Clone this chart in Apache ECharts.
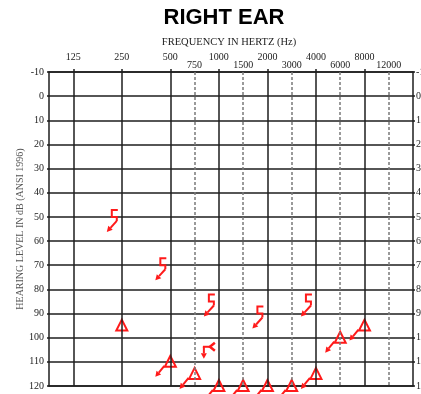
<!DOCTYPE html>
<html>
<head>
<meta charset="utf-8">
<title>Right Ear Audiogram</title>
<script src="https://cdn.jsdelivr.net/npm/echarts@6/dist/echarts.min.js"></script>
<style>
  html, body { margin: 0; padding: 0; background: #fff; }
  #chart { width: 421px; height: 394px; }
</style>
</head>
<body>
<div id="chart"></div>
<script>
// Frequency axis: octave labels on the upper row, inter-octave labels below them
const octaveLabels = ['125', '250', '500', '1000', '2000', '4000', '8000'];
const midLabels = ['750', '1500', '3000', '6000', '12000'];
// Hearing level ticks (dB HL)
const dbMin = -10;
const dbMax = 120;
const dbStep = 10;

// Masked air conduction (triangle), right ear
const maskedAirFreq = [250, 500, 750, 1000, 1500, 2000, 3000, 4000, 6000, 8000];
const maskedAirDb = [95, 110, 115, 120, 120, 120, 120, 115, 100, 95];
const maskedAirNoResp = [0, 1, 1, 1, 1, 1, 1, 1, 1, 1];

// Masked bone conduction ([), right ear — all no response
const maskedBoneFreq = [250, 500, 1000, 2000, 4000];
const maskedBoneDb = [50, 70, 85, 90, 85];

// Unmasked bone conduction (<), right ear — no response
const boneFreq = [1000];
const boneDb = [105];

// Audiogram x scale: half-octave slots, 125 Hz in slot 1, 12000 Hz in slot 14
function slotOf(freq) {
  const s = String(freq);
  const i = octaveLabels.indexOf(s);
  if (i >= 0) return 2 * i + 1;
  const j = midLabels.indexOf(s);
  return 2 * j + 6;
}
const octaveSlots = octaveLabels.map(slotOf);
const midSlots = midLabels.map(slotOf);

const RED = '#ff1a1a';
const GRID = '#1e1e1e';
const serif = '"Liberation Serif", "DejaVu Serif", serif';

function arrow(x1, y1, x2, y2) {
  const a = Math.atan2(y2 - y1, x2 - x1);
  const h = 5.5, w = 3;
  const bx = x2 - h * Math.cos(a), by = y2 - h * Math.sin(a);
  const nx = -Math.sin(a) * w, ny = Math.cos(a) * w;
  return [
    { type: 'line', shape: { x1: x1, y1: y1, x2: bx, y2: by },
      style: { stroke: RED, lineWidth: 2, fill: null } },
    { type: 'polygon', shape: { points: [[x2, y2], [bx + nx, by + ny], [bx - nx, by - ny]] },
      style: { fill: RED } }
  ];
}

function renderTriangle(params, api) {
  const p = api.coord([api.value(0), api.value(1)]);
  const x = p[0], y = p[1];
  let children = [{
    type: 'polygon',
    shape: { points: [[x, y - 6], [x + 5.5, y + 5], [x - 5.5, y + 5]] },
    style: { stroke: RED, lineWidth: 2, fill: null }
  }];
  if (api.value(2)) children = children.concat(arrow(x - 6, y + 4, x - 15, y + 15));
  return { type: 'group', children: children };
}

function renderBracket(params, api) {
  const p = api.coord([api.value(0), api.value(1)]);
  const x = p[0], y = p[1];
  let children = [{
    type: 'polyline',
    shape: { points: [[x - 4, y - 7], [x - 10, y - 7], [x - 10, y], [x - 5, y], [x - 5, y + 4]] },
    style: { stroke: RED, lineWidth: 2, fill: null }
  }];
  children = children.concat(arrow(x - 5, y + 4, x - 15, y + 15));
  return { type: 'group', children: children };
}

function renderBone(params, api) {
  const p = api.coord([api.value(0), api.value(1)]);
  const x = p[0], y = p[1];
  let children = [
    { type: 'line', shape: { x1: x - 16, y1: y - 3, x2: x - 8, y2: y - 3 },
      style: { stroke: RED, lineWidth: 2 } },
    { type: 'polyline', shape: { points: [[x - 4, y - 7], [x - 9, y - 3], [x - 4, y + 1]] },
      style: { stroke: RED, lineWidth: 2.5, fill: null } }
  ];
  children = children.concat(arrow(x - 15, y - 3, x - 15, y + 9));
  return { type: 'group', children: children };
}

const gridLines = octaveSlots.map(function (s) {
  return { xAxis: s, lineStyle: { color: GRID, width: 1.5, type: 'solid' } };
}).concat(midSlots.map(function (s) {
  return { xAxis: s, lineStyle: { color: '#7a7a7a', width: 1.5, type: [3, 2] } };
}));

const labelText = {};
octaveSlots.forEach(function (s, i) { labelText[s] = '{o|' + octaveLabels[i] + '}'; });
midSlots.forEach(function (s, i) { labelText[s] = '{m|' + midLabels[i] + '}'; });

const chart = echarts.init(document.getElementById('chart'), null, { renderer: 'canvas' });
chart.setOption({
  animation: false,
  backgroundColor: '#fff',
  grid: { left: 49, right: 8, top: 72, bottom: 8, containLabel: false, outerBoundsMode: 'none' },
  graphic: [
    { type: 'text', x: 224, y: 18, style: { text: 'RIGHT EAR', textAlign: 'center', textVerticalAlign: 'middle',
      font: 'bold 22px "Liberation Sans", Arial, sans-serif', fill: '#000' } },
    { type: 'text', x: 229, y: 42, style: { text: 'FREQUENCY IN HERTZ (Hz)', textAlign: 'center', textVerticalAlign: 'middle',
      font: '10.5px ' + serif, fill: '#222' } }
  ],
  xAxis: [
    {
      type: 'value', position: 'top', min: 0, max: 15,
      axisLine: { show: true, onZero: false, lineStyle: { color: GRID, width: 1.5 } },
      axisTick: { show: true, customValues: octaveSlots, length: 3, lineStyle: { color: GRID, width: 1.5 } },
      axisLabel: {
        customValues: octaveSlots.concat(midSlots),
        margin: 2,
        formatter: function (v) { return labelText[v] || ''; },
        rich: {
          o: { fontFamily: serif, fontSize: 10, color: '#222', padding: [0, 0, 8, 0] },
          m: { fontFamily: serif, fontSize: 10, color: '#222' }
        }
      },
      splitLine: { show: false }
    },
    {
      type: 'value', position: 'bottom', min: 0, max: 15,
      axisLine: { show: true, onZero: false, lineStyle: { color: GRID, width: 1.5 } },
      axisTick: { show: false }, axisLabel: { show: false }, splitLine: { show: false }
    }
  ],
  yAxis: [
    {
      type: 'value', inverse: true, min: dbMin, max: dbMax, interval: dbStep, position: 'left',
      axisLine: { show: true, onZero: false, lineStyle: { color: GRID, width: 1.5 } },
      axisTick: { show: true, length: 2, lineStyle: { color: GRID, width: 1.5 } },
      axisLabel: { margin: 5, fontFamily: serif, fontSize: 10, color: '#222' },
      splitLine: { show: true, lineStyle: { color: GRID, width: 1.5 } },
      name: 'HEARING LEVEL IN dB (ANSI 1996)', nameLocation: 'middle', nameGap: 24, nameRotate: 90,
      nameMoveOverlap: false,
      nameTextStyle: { fontFamily: serif, fontSize: 10, color: '#555' }
    },
    {
      type: 'value', inverse: true, min: dbMin, max: dbMax, interval: dbStep, position: 'right',
      axisLine: { show: true, onZero: false, lineStyle: { color: GRID, width: 1.5 } },
      axisTick: { show: true, length: 2, lineStyle: { color: GRID, width: 1.5 } },
      axisLabel: { margin: 3, fontFamily: serif, fontSize: 10, color: '#222' },
      splitLine: { show: false }
    }
  ],
  series: [
    {
      type: 'line', data: [], silent: true,
      markLine: { silent: true, symbol: 'none', label: { show: false }, animation: false, data: gridLines }
    },
    {
      name: 'Masked AC', type: 'custom', clip: false, renderItem: renderTriangle,
      encode: { x: 0, y: 1 },
      data: maskedAirFreq.map(function (f, i) { return [slotOf(f), maskedAirDb[i], maskedAirNoResp[i]]; })
    },
    {
      name: 'Masked BC', type: 'custom', clip: false, renderItem: renderBracket,
      encode: { x: 0, y: 1 },
      data: maskedBoneFreq.map(function (f, i) { return [slotOf(f), maskedBoneDb[i]]; })
    },
    {
      name: 'Unmasked BC', type: 'custom', clip: false, renderItem: renderBone,
      encode: { x: 0, y: 1 },
      data: boneFreq.map(function (f, i) { return [slotOf(f), boneDb[i]]; })
    }
  ]
});
</script>
</body>
</html>
